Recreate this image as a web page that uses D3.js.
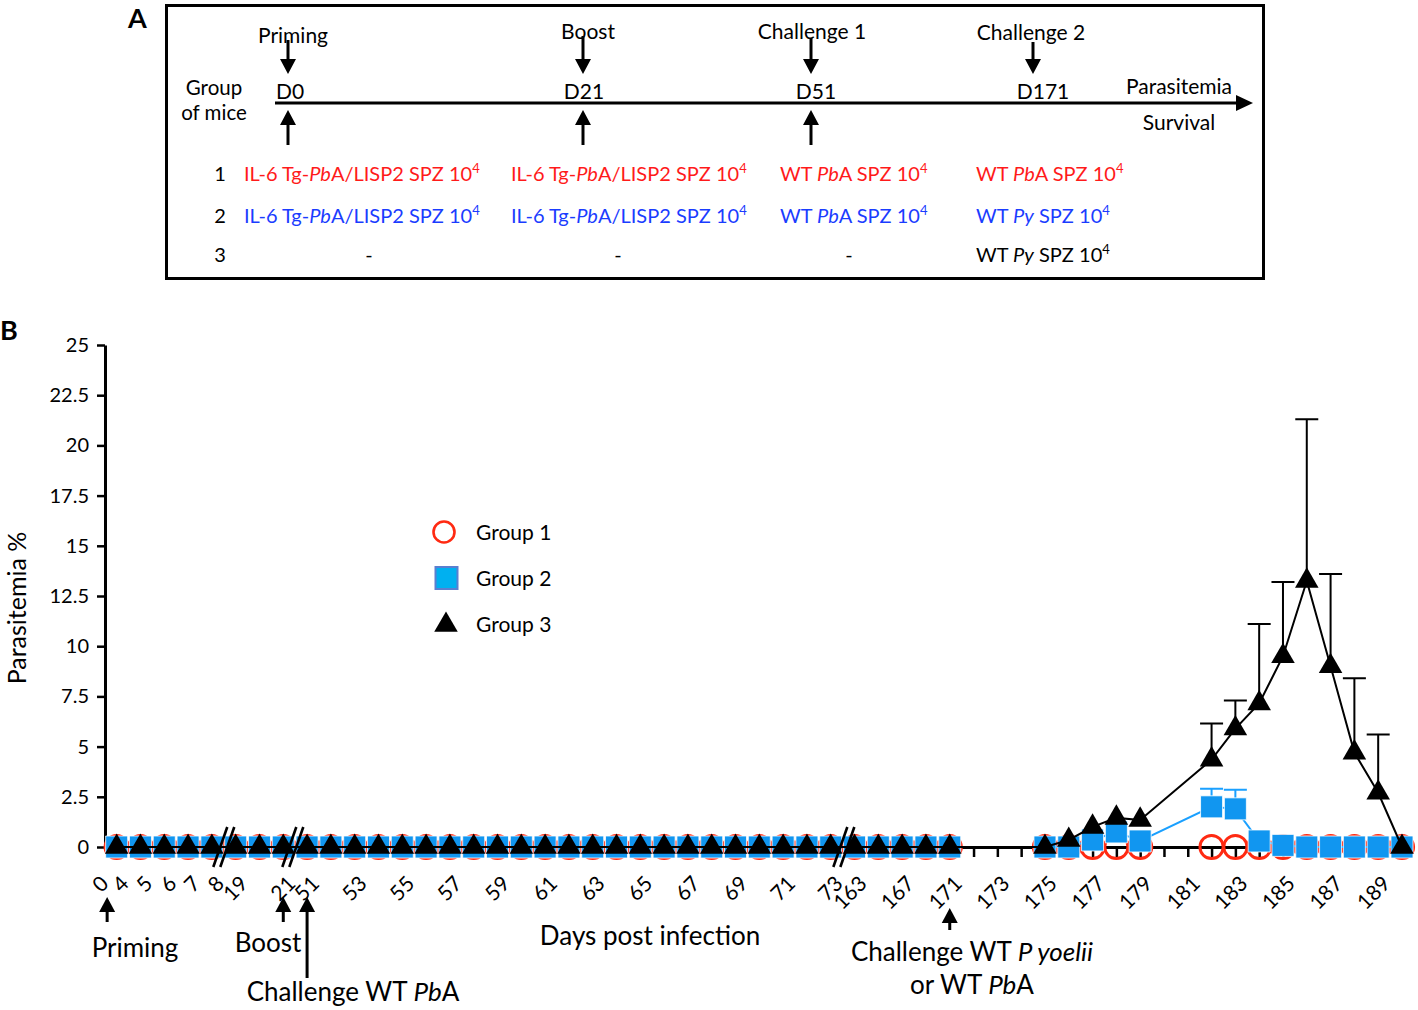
<!DOCTYPE html>
<html>
<head>
<meta charset="utf-8">
<script src="https://cdn.jsdelivr.net/npm/d3@7"></script>
<style>
  body { margin: 0; background: #fff; }
  svg { display: block; }
  text { font-family: Lato, 'Open Sans', sans-serif; fill: #000; }
</style>
</head>
<body>
<script>
const width = 1418;
const height = 1010;

// one x slot per sampled day (the axis is broken after 8, 21 and 73)
const days = [4, 5, 6, 7, 8, 19, 20, 21,
  51, 52, 53, 54, 55, 56, 57, 58, 59, 60, 61, 62, 63, 64, 65, 66, 67, 68, 69, 70, 71, 72, 73,
  163, 165, 167, 169, 171,
  172, 173, 174, 175, 176, 177, 178, 179, 180, 181, 182, 183, 184, 185, 186, 187, 188, 189, 190];

const tickLabels = [0, 4, 5, 6, 7, 8, 19, 21, 51, 53, 55, 57, 59, 61, 63, 65, 67, 69, 71, 73,
  163, 167, 171, 173, 175, 177, 179, 181, 183, 185, 187, 189];

const yTicks = [0, 2.5, 5, 7.5, 10, 12.5, 15, 17.5, 20, 22.5, 25];

// parasitemia % (null = not measured)
const group1 = [0, 0, 0, 0, 0, 0, 0, 0,
  0, 0, 0, 0, 0, 0, 0, 0, 0, 0, 0, 0, 0, 0, 0, 0, 0, 0, 0, 0, 0, 0, 0,
  0, 0, 0, 0, 0,
  null, null, null, 0, 0, 0, 0, 0, null, null, 0, 0, 0, 0, 0, 0, 0, 0, 0];
const group2 = [0, 0, 0, 0, 0, 0, 0, 0,
  0, 0, 0, 0, 0, 0, 0, 0, 0, 0, 0, 0, 0, 0, 0, 0, 0, 0, 0, 0, 0, 0, 0,
  0, 0, 0, 0, 0,
  null, null, null, 0, 0, 0.35, 0.75, 0.3, null, null, 2.0, 1.9, 0.3, 0.08, 0, 0, 0, 0, 0];
const group3 = [0, 0, 0, 0, 0, 0, 0, 0,
  0, 0, 0, 0, 0, 0, 0, 0, 0, 0, 0, 0, 0, 0, 0, 0, 0, 0, 0, 0, 0, 0, 0,
  0, 0, 0, 0, 0,
  null, null, null, 0, 0.35, 1.0, 1.45, 1.35, null, null, 4.35, 5.9, 7.15, 9.5, 13.25, 9.0, 4.7, 2.7, 0];

// upper error bars (SD)
const group2ErrDays = [182, 183];
const group2Err = [0.9, 0.95];
const group3ErrDays = [182, 183, 184, 185, 186, 187, 188, 189];
const group3Err = [1.8, 1.4, 3.95, 3.7, 8.05, 4.6, 3.7, 2.9];

const groupNames = ['Group 1', 'Group 2', 'Group 3'];

const red = '#ff2a12';
const blue = '#1196f0';
const textRed = '#ff1a1a';
const textBlue = '#1a3cff';

const svg = d3.select('body')
  .append('svg')
    .attr('width', width)
    .attr('height', height)
    .attr('viewBox', [0, 0, width, height].join(' '));

// ---------- panel A: protocol diagram ----------
const a = svg.append('g');

a.append('text')
  .attr('x', 128).attr('y', 28)
  .style('font-size', '27px').style('font-weight', 'bold')
  .text('A');

a.append('rect')
  .attr('x', 166.5).attr('y', 5.5)
  .attr('width', 1097).attr('height', 273)
  .attr('fill', 'none').attr('stroke', '#000').attr('stroke-width', 3);

const arrowHead = (g, x, tipY, dir) => {
  // dir 1 = pointing down, -1 = pointing up
  g.append('path')
    .attr('d', `M${x - 8},${tipY - dir * 15} L${x + 8},${tipY - dir * 15} L${x},${tipY} Z`)
    .attr('fill', '#000');
};
const arrow = (g, x, fromY, tipY, dir) => {
  g.append('line')
    .attr('x1', x).attr('x2', x)
    .attr('y1', fromY).attr('y2', tipY - dir * 10)
    .attr('stroke', '#000').attr('stroke-width', 3);
  arrowHead(g, x, tipY, dir);
};

// timeline
a.append('line')
  .attr('x1', 275).attr('x2', 1240)
  .attr('y1', 103).attr('y2', 103)
  .attr('stroke', '#000').attr('stroke-width', 3);
a.append('path')
  .attr('d', 'M1236,95 L1253,103 L1236,111 Z')
  .attr('fill', '#000');

const events = [
  { label: 'Priming', day: 'D0', x: 288, lx: 293, ly: 43, top: 40, dx: 276, anchor: 'start', up: true },
  { label: 'Boost', day: 'D21', x: 583, lx: 588, ly: 39, top: 36, dx: 584, anchor: 'middle', up: true },
  { label: 'Challenge 1', day: 'D51', x: 811, lx: 812, ly: 39, top: 38, dx: 816, anchor: 'middle', up: true },
  { label: 'Challenge 2', day: 'D171', x: 1033, lx: 1031, ly: 40, top: 42, dx: 1043, anchor: 'middle', up: false },
];

events.forEach((e) => {
  a.append('text')
    .attr('x', e.lx).attr('y', e.ly)
    .attr('text-anchor', 'middle')
    .style('font-size', '21px')
    .text(e.label);
  arrow(a, e.x, e.top, 74, 1);
  a.append('text')
    .attr('x', e.dx).attr('y', 99)
    .attr('text-anchor', e.anchor)
    .style('font-size', '21px')
    .text(e.day);
  if (e.up) arrow(a, e.x, 145, 110, -1);
});

[['Group', 95], ['of mice', 120]].forEach(([t, yy]) => {
  a.append('text').attr('x', 214).attr('y', yy)
    .attr('text-anchor', 'middle').style('font-size', '20.5px').text(t);
});
[['Parasitemia', 94], ['Survival', 130]].forEach(([t, yy]) => {
  a.append('text').attr('x', 1179).attr('y', yy)
    .attr('text-anchor', 'middle').style('font-size', '21px').text(t);
});

// protocol table: segments [text, style] with style 0 plain, 1 italic, 2 superscript
const il6 = [['IL-6 Tg-', 0], ['Pb', 1], ['A/LISP2 SPZ 10', 0], ['4', 2]];
const wtPbA = [['WT ', 0], ['Pb', 1], ['A SPZ 10', 0], ['4', 2]];
const wtPy = [['WT ', 0], ['Py', 1], [' SPZ 10', 0], ['4', 2]];
const dash = [['-', 0]];

const rowNames = ['1', '2', '3'];
const rowY = [181, 223, 262];
const colX = [244, 511, 780, 976];
const dashX = [369, 618, 849];
const cells = [
  [[il6, textRed], [il6, textRed], [wtPbA, textRed], [wtPbA, textRed]],
  [[il6, textBlue], [il6, textBlue], [wtPbA, textBlue], [wtPy, textBlue]],
  [[dash, '#000'], [dash, '#000'], [dash, '#000'], [wtPy, '#000']],
];

const richText = (g, segs, x, yy, anchor, color, size) => {
  const t = g.append('text')
    .attr('x', x).attr('y', yy)
    .attr('text-anchor', anchor)
    .style('font-size', size + 'px')
    .style('fill', color);
  segs.forEach(([s, st]) => {
    const sp = t.append('tspan').text(s);
    if (st === 1) sp.style('font-style', 'italic');
    if (st === 2) sp.style('font-size', (size * 0.65) + 'px').attr('dy', -size * 0.38);
  });
  return t;
};

rowNames.forEach((r, i) => {
  a.append('text').attr('x', 220).attr('y', rowY[i])
    .attr('text-anchor', 'middle').style('font-size', '20px').text(r);
  cells[i].forEach(([segs, color], j) => {
    const isDash = segs === dash;
    richText(a, segs, isDash ? dashX[j] : colX[j], rowY[i], isDash ? 'middle' : 'start', color, 20);
  });
});

// ---------- panel B: parasitemia ----------
const b = svg.append('g');

b.append('text')
  .attr('x', 0).attr('y', 340)
  .style('font-size', '27px').style('font-weight', 'bold')
  .text('B');

const x = d3.scaleLinear()
  .domain([-0.49, days.length - 0.55])
  .range([105, 1412.7]);

const y = d3.scaleLinear()
  .domain([0, 25])
  .range([847, 345]);

const slot = (day) => days.indexOf(day);
const zeroSlot = -0.85;

const yAxis = d3.axisLeft(y)
  .tickValues(yTicks)
  .tickSize(8)
  .tickSizeOuter(0)
  .tickPadding(8)
  .tickFormat((d) => d);

const xAxis = d3.axisBottom(x)
  .tickValues([zeroSlot].concat(d3.range(days.length)))
  .tickSize(10)
  .tickSizeOuter(0)
  .tickFormat((i) => (i === zeroSlot ? '0' : (tickLabels.includes(days[i]) ? days[i] : '')));

const gy = b.append('g')
  .attr('class', 'y axis')
  .attr('transform', `translate(${x.range()[0]}, 0)`)
  .call(yAxis);

gy.select('.domain').attr('stroke-width', 3);
gy.selectAll('.tick line').attr('stroke-width', 2.5);
gy.selectAll('.tick text')
  .style('font-size', '20px')
  .style('font-family', 'Lato, sans-serif');

const gx = b.append('g')
  .attr('class', 'x axis')
  .attr('transform', `translate(0, ${y(0)})`)
  .call(xAxis);

gx.select('.domain').attr('stroke-width', 3);
gx.selectAll('.tick line')
  .attr('stroke-width', 2.5)
  .attr('opacity', (d) => (d === zeroSlot ? 0 : 1));
gx.selectAll('.tick text')
  .attr('x', null).attr('y', null).attr('dy', null)
  .attr('text-anchor', 'end')
  .attr('transform', 'translate(13, 38) rotate(-45)')
  .style('font-size', '21px')
  .style('font-family', 'Lato, sans-serif');

b.append('text')
  .attr('transform', `translate(26, ${y(12.5) + 12}) rotate(-90)`)
  .attr('text-anchor', 'middle')
  .style('font-size', '25px')
  .text('Parasitemia %');

const points = (vals) => vals
  .map((v, i) => ({ i, v }))
  .filter((d) => d.v !== null);

const line = d3.line()
  .x((d) => x(d.i))
  .y((d) => y(d.v));

const errors = (g, errDays, errs, vals, color) => {
  const data = errDays.map((d, k) => ({ i: slot(d), v: vals[slot(d)], e: errs[k] }));
  g.selectAll(null)
    .data(data)
    .enter()
      .append('path')
      .attr('d', (d) => `M${x(d.i)},${y(d.v)} V${y(d.v + d.e)} M${x(d.i) - 11.5},${y(d.v + d.e)} H${x(d.i) + 11.5}`)
      .attr('fill', 'none')
      .attr('stroke', color)
      .attr('stroke-width', 2);
};

const marks = b.append('g');

// group 1: open red circles
marks.selectAll('.g1')
  .data(points(group1))
  .enter()
    .append('circle')
    .attr('class', 'g1')
    .attr('cx', (d) => x(d.i))
    .attr('cy', (d) => y(d.v))
    .attr('r', 11.6)
    .attr('fill', 'none')
    .attr('stroke', red)
    .attr('stroke-width', 3);

// group 2: blue squares
marks.append('path')
  .datum(points(group2))
  .attr('d', line)
  .attr('fill', 'none').attr('stroke', '#1aa0ff').attr('stroke-width', 2);
errors(marks, group2ErrDays, group2Err, group2, '#1aa0ff');
marks.selectAll('.g2')
  .data(points(group2))
  .enter()
    .append('path')
    .attr('class', 'g2')
    .attr('transform', (d) => `translate(${x(d.i)}, ${y(d.v)})`)
    .attr('d', d3.symbol(d3.symbolSquare, 22 * 22))
    .attr('fill', blue)
    .attr('stroke', '#fff')
    .attr('stroke-width', 0.8);

// group 3: black triangles
marks.append('path')
  .datum(points(group3))
  .attr('d', line)
  .attr('fill', 'none').attr('stroke', '#000').attr('stroke-width', 2);
errors(marks, group3ErrDays, group3Err, group3, '#000');
marks.selectAll('.g3')
  .data(points(group3))
  .enter()
    .append('path')
    .attr('class', 'g3')
    .attr('transform', (d) => `translate(${x(d.i)}, ${y(d.v)})`)
    .attr('d', d3.symbol(d3.symbolTriangle, 240))
    .attr('fill', '#000');

// axis breaks "//"
const breaks = [4.5, 7.4, 30.55];
breaks.forEach((s) => {
  [-3.5, 3.5].forEach((o) => {
    b.append('line')
      .attr('x1', x(s) + o - 7).attr('y1', y(0) + 20)
      .attr('x2', x(s) + o + 7).attr('y2', y(0) - 20)
      .attr('stroke', '#000').attr('stroke-width', 2.6);
  });
});

// legend
const legend = b.append('g');
const legendY = [532, 578, 624];
legend.append('circle')
  .attr('cx', 444).attr('cy', legendY[0]).attr('r', 10.5)
  .attr('fill', 'none').attr('stroke', red).attr('stroke-width', 2.6);
legend.append('rect')
  .attr('x', 435.5).attr('y', legendY[1] - 11).attr('width', 22).attr('height', 22)
  .attr('fill', '#00b0f0').attr('stroke', '#5a7fd0').attr('stroke-width', 2);
legend.append('path')
  .attr('transform', `translate(446, ${legendY[2] + 1})`)
  .attr('d', d3.symbol(d3.symbolTriangle, 240))
  .attr('fill', '#000');
groupNames.forEach((n, i) => {
  legend.append('text')
    .attr('x', 476).attr('y', legendY[i] + 8)
    .style('font-size', '21px')
    .text(n);
});

// annotations under the axis
const notes = b.append('g');
arrow(notes, x(-0.4), 922, 897, -1);
arrow(notes, x(slot(21)), 922, 897, -1);
arrow(notes, x(slot(51)), 978, 897, -1);
arrow(notes, x(slot(171)), 930, 908, -1);

richText(notes, [['Priming', 0]], 135, 957, 'middle', '#000', 26);
richText(notes, [['Boost', 0]], 268, 952, 'middle', '#000', 26);
richText(notes, [['Challenge WT ', 0], ['Pb', 1], ['A', 0]], 353, 1001, 'middle', '#000', 26);
richText(notes, [['Days post infection', 0]], 650, 945, 'middle', '#000', 26);
richText(notes, [['Challenge WT ', 0], ['P yoelii', 1]], 972, 961, 'middle', '#000', 26);
richText(notes, [['or WT ', 0], ['Pb', 1], ['A', 0]], 972, 994, 'middle', '#000', 26);
</script>
</body>
</html>
